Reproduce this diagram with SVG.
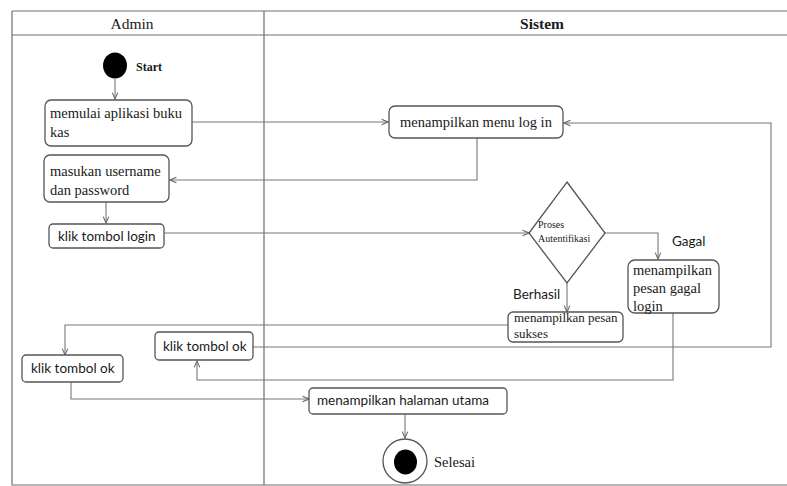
<svg xmlns="http://www.w3.org/2000/svg" width="787" height="486" viewBox="0 0 787 486">
  <style>
    .frame { fill: none; stroke: #6e6e6e; stroke-width: 1.2; }
    .box { fill: #ffffff; stroke: #555555; stroke-width: 1.3; }
    .edge { fill: none; stroke: #777777; stroke-width: 1.1; }
    text { fill: #1a1a1a; }
    .t14 { font-size: 14.5px; }
    .t13 { font-size: 13.5px; }
    .small { font-size: 10px; }
  </style>
  <defs>
    <marker id="open" viewBox="0 0 10 10" refX="9" refY="5" markerWidth="8" markerHeight="8" orient="auto" markerUnits="userSpaceOnUse">
      <path d="M1,1.5 L9,5 L1,8.5" fill="none" stroke="#666666" stroke-width="1.3"/>
    </marker>
  </defs>

  <!-- swimlane frame -->
  <g id="lanes">
    <path class="frame" d="M12,11 H787 M12,35 H787 M12,11 V485 H787 M264,11 V485"/>
    <text font-family="Liberation Serif, Times New Roman, serif" x="132" y="29" font-size="15.5" text-anchor="middle">Admin</text>
    <text font-family="Liberation Serif, Times New Roman, serif" x="542" y="29" font-size="15.5" font-weight="bold" text-anchor="middle">Sistem</text>
  </g>

  <!-- connectors -->
  <g id="connectors">
    <path class="edge" d="M115,79 V99" marker-end="url(#open)"/>
    <path class="edge" d="M192,122 H388" marker-end="url(#open)"/>
    <path class="edge" d="M477,138 V180 H170" marker-end="url(#open)"/>
    <path class="edge" d="M106,202 V223" marker-end="url(#open)"/>
    <path class="edge" d="M164,233 H529" marker-end="url(#open)"/>
    <path class="edge" d="M605,233 H658 V259" marker-end="url(#open)"/>
    <path class="edge" d="M567,283 V312" marker-end="url(#open)"/>
    <path class="edge" d="M508,325 H65 V355" marker-end="url(#open)"/>
    <path class="edge" d="M253,347 H771 V123 H564" marker-end="url(#open)"/>
    <path class="edge" d="M673,313 V380 H197 V361" marker-end="url(#open)"/>
    <path class="edge" d="M71,382 V399 H309" marker-end="url(#open)"/>
    <path class="edge" d="M405,414 V438" marker-end="url(#open)"/>
  </g>

  <!-- initial node -->
  <g id="start">
    <ellipse cx="115" cy="65.5" rx="12" ry="13" fill="#000000"/>
    <text font-family="Liberation Serif, Times New Roman, serif" x="136" y="71" font-size="12" font-weight="bold">Start</text>
  </g>

  <g id="memulai" font-family="Liberation Serif, Times New Roman, serif">
    <rect class="box" x="45" y="100" width="147" height="46" rx="6"/>
    <text class="t14" x="50" y="118">memulai aplikasi buku</text>
    <text class="t14" x="50" y="137">kas</text>
  </g>

  <g id="menu-login" font-family="Liberation Serif, Times New Roman, serif">
    <rect class="box" x="389" y="106" width="174" height="32" rx="6"/>
    <text class="t14" x="476" y="127" text-anchor="middle">menampilkan menu log in</text>
  </g>

  <g id="masukan" font-family="Liberation Serif, Times New Roman, serif">
    <rect class="box" x="44" y="155" width="125" height="47" rx="6"/>
    <text class="t14" x="50" y="176">masukan username</text>
    <text class="t14" x="50" y="195">dan password</text>
  </g>

  <g id="klik-login" font-family="Lato, Liberation Sans, sans-serif">
    <rect class="box" x="49" y="224" width="115" height="24" rx="4"/>
    <text class="t13" x="58" y="241">klik tombol login</text>
  </g>

  <g id="autentifikasi" font-family="Liberation Serif, Times New Roman, serif">
    <polygon class="box" points="567,182 605,233 567,283 529,233"/>
    <text class="small" x="538" y="228">Proses</text>
    <text class="small" x="538" y="242">Autentifikasi</text>
  </g>

  <g id="gagal-label" font-family="Lato, Liberation Sans, sans-serif">
    <text class="t13" x="672" y="246">Gagal</text>
  </g>

  <g id="pesan-gagal" font-family="Liberation Serif, Times New Roman, serif">
    <rect class="box" x="628" y="260" width="91" height="53" rx="7"/>
    <text class="t14" x="633" y="275">menampilkan</text>
    <text class="t14" x="633" y="293">pesan gagal</text>
    <text class="t14" x="633" y="311">login</text>
  </g>

  <g id="berhasil-label" font-family="Lato, Liberation Sans, sans-serif">
    <text class="t13" x="513" y="299">Berhasil</text>
  </g>

  <g id="pesan-sukses" font-family="Liberation Serif, Times New Roman, serif">
    <rect class="box" x="508" y="312" width="115" height="30" rx="5"/>
    <text font-size="13" x="514" y="322">menampilkan pesan</text>
    <text font-size="13" x="514" y="338">sukses</text>
  </g>

  <g id="klik-ok-kiri" font-family="Lato, Liberation Sans, sans-serif">
    <rect class="box" x="22" y="355" width="101" height="27" rx="4"/>
    <text class="t13" x="31" y="373">klik tombol ok</text>
  </g>

  <g id="klik-ok-tengah" font-family="Lato, Liberation Sans, sans-serif">
    <rect class="box" x="155" y="332" width="98" height="28" rx="4"/>
    <text class="t13" x="163" y="351">klik tombol ok</text>
  </g>

  <g id="halaman-utama" font-family="Lato, Liberation Sans, sans-serif">
    <rect class="box" x="309" y="388" width="198" height="26" rx="4"/>
    <text class="t13" x="317" y="405">menampilkan halaman utama</text>
  </g>

  <!-- final node -->
  <g id="selesai">
    <circle cx="405" cy="461" r="22" fill="#ffffff" stroke="#555555" stroke-width="1.3"/>
    <ellipse cx="405.5" cy="462" rx="11.5" ry="12.5" fill="#000000"/>
    <text font-family="Liberation Serif, Times New Roman, serif" class="t14" x="434" y="467">Selesai</text>
  </g>
</svg>
